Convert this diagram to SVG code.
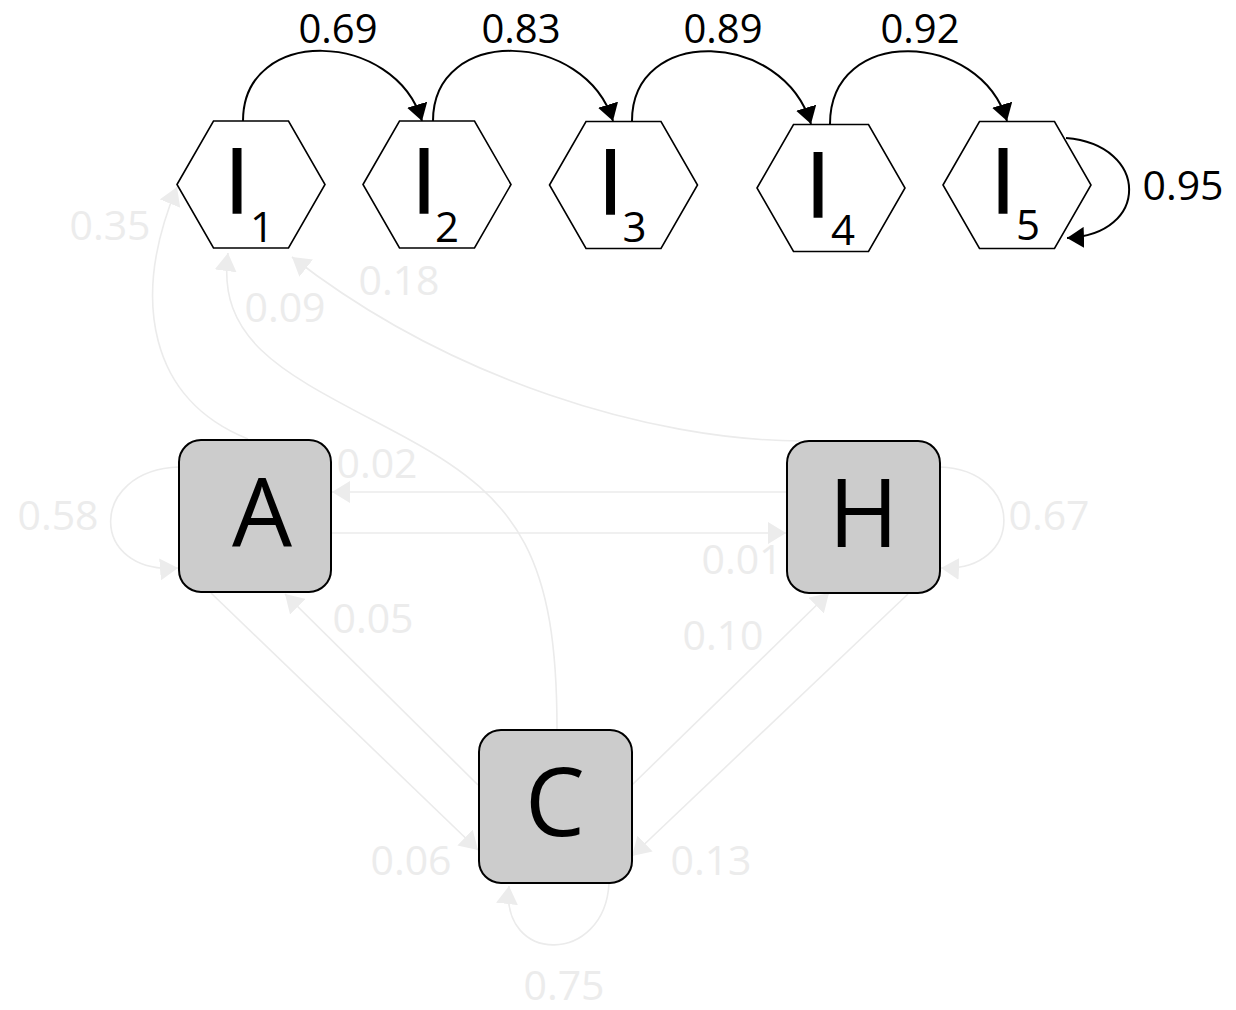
<svg xmlns="http://www.w3.org/2000/svg" width="1236" height="1010" viewBox="0 0 1236 1010">
<style>
  .lbl { font-family: "Open Sans", "DejaVu Sans", sans-serif; font-size: 41px; text-anchor: middle; }
  .top { font-size: 40px; }
  .dark { fill: #000000; }
  .faint { fill: #ececec; }
  .arc { fill: none; stroke: #000000; stroke-width: 2; }
  .fe { fill: none; stroke: #ebebeb; stroke-width: 1.6; }
  .hex { fill: #ffffff; stroke: #000000; stroke-width: 1.6; }
  .box { fill: #cccccc; stroke: #000000; stroke-width: 2; }
  .big { font-family: "Open Sans", "DejaVu Sans", sans-serif; font-size: 90px; text-anchor: middle; fill: #000000; stroke: #000000; stroke-width: 1.5; }
  .sub { font-family: "Open Sans", "DejaVu Sans", sans-serif; font-size: 42px; text-anchor: middle; fill: #000000; }
  .boxlbl { font-family: "Open Sans", "DejaVu Sans", sans-serif; font-size: 95px; text-anchor: middle; fill: #000000; }
</style>
<defs>
  <marker id="ah" markerUnits="userSpaceOnUse" markerWidth="17" markerHeight="21" refX="17" refY="10.5" orient="auto">
    <path d="M0,0 L17,10.5 L0,21 z" fill="#000000"/>
  </marker>
  <marker id="ahf" markerUnits="userSpaceOnUse" markerWidth="18" markerHeight="22" refX="18" refY="11" orient="auto">
    <path d="M0,0 L18,11 L0,22 z" fill="#ececec"/>
  </marker>
  <polygon id="hexshape" points="-74,0 -37.5,-63.5 37.5,-63.5 74,0 37.5,63.5 -37.5,63.5"/>
</defs>

<g id="connectors">
  <!-- faint edges -->
  <path class="fe" marker-end="url(#ahf)" d="M248,439 C150,400 130,300 177,187"/>
  <path class="fe" marker-end="url(#ahf)" d="M557,729 C557,560 520,500 410,440 C300,380 215,350 228,253"/>
  <path class="fe" marker-end="url(#ahf)" d="M800,441 C650,440 450,380 292,257"/>
  <path class="fe" marker-end="url(#ahf)" d="M787,492 L332,492"/>
  <path class="fe" marker-end="url(#ahf)" d="M331,533 L786,533"/>
  <path class="fe" marker-end="url(#ahf)" d="M179,467 C88,470 88,575 178,568"/>
  <path class="fe" marker-end="url(#ahf)" d="M940,467 C1025,470 1025,572 941,568"/>
  <path class="fe" marker-end="url(#ahf)" d="M211,593 L478,850"/>
  <path class="fe" marker-end="url(#ahf)" d="M478,785 L285,594"/>
  <path class="fe" marker-end="url(#ahf)" d="M632,785 L829,593"/>
  <path class="fe" marker-end="url(#ahf)" d="M908,594 L632,856"/>
  <path class="fe" marker-end="url(#ahf)" d="M609,883 C605,965 500,965 509,886"/>

  <text class="lbl faint" x="110" y="240">0.35</text>
  <text class="lbl faint" x="285" y="322">0.09</text>
  <text class="lbl faint" x="399" y="295">0.18</text>
  <text class="lbl faint" x="377" y="478">0.02</text>
  <text class="lbl faint" x="58" y="530">0.58</text>
  <text class="lbl faint" x="742" y="574">0.01</text>
  <text class="lbl faint" x="1049" y="530">0.67</text>
  <text class="lbl faint" x="373" y="633">0.05</text>
  <text class="lbl faint" x="723" y="650">0.10</text>
  <text class="lbl faint" x="411" y="875">0.06</text>
  <text class="lbl faint" x="711" y="875">0.13</text>
  <text class="lbl faint" x="564" y="1000">0.75</text>

  <!-- black transitions -->
  <path class="arc" marker-end="url(#ah)" d="M243,121 C243,25 395,30 422,121"/>
  <path class="arc" marker-end="url(#ah)" d="M433,121 C433,25 585,30 613,121"/>
  <path class="arc" marker-end="url(#ah)" d="M632,121 C632,25 783,30 811,124"/>
  <path class="arc" marker-end="url(#ah)" d="M830,124 C830,25 980,30 1007,121"/>
  <path class="arc" marker-end="url(#ah)" d="M1066,138 C1150,145 1150,235 1067,238"/>

  <text class="lbl top dark" x="338" y="43">0.69</text>
  <text class="lbl top dark" x="521" y="43">0.83</text>
  <text class="lbl top dark" x="723" y="43">0.89</text>
  <text class="lbl top dark" x="920" y="43">0.92</text>
  <text class="lbl dark" x="1183" y="200">0.95</text>
</g>

<g id="I1" transform="translate(251,184.5)">
  <use href="#hexshape" class="hex"/>
  <text class="big" x="-14" y="28.5">I</text>
  <text class="sub" x="11" y="57">1</text>
</g>
<g id="I2" transform="translate(437,184.5)">
  <use href="#hexshape" class="hex"/>
  <text class="big" x="-13" y="28.5">I</text>
  <text class="sub" x="10" y="57">2</text>
</g>
<g id="I3" transform="translate(623.5,185)">
  <use href="#hexshape" class="hex"/>
  <text class="big" x="-13" y="28.5">I</text>
  <text class="sub" x="11" y="57">3</text>
</g>
<g id="I4" transform="translate(831,188)">
  <use href="#hexshape" class="hex"/>
  <text class="big" x="-13" y="29">I</text>
  <text class="sub" x="12" y="57">4</text>
</g>
<g id="I5" transform="translate(1017,185)">
  <use href="#hexshape" class="hex"/>
  <text class="big" x="-14" y="28">I</text>
  <text class="sub" x="11" y="55">5</text>
</g>

<g id="A">
  <rect class="box" x="179" y="440" width="152" height="152" rx="22"/>
  <text class="boxlbl" x="262" y="547">A</text>
</g>
<g id="H">
  <rect class="box" x="787" y="441" width="153" height="152" rx="22"/>
  <text class="boxlbl" x="863.5" y="547">H</text>
</g>
<g id="C">
  <rect class="box" x="479" y="730" width="153" height="153" rx="22"/>
  <text class="boxlbl" x="555" y="836">C</text>
</g>
</svg>
